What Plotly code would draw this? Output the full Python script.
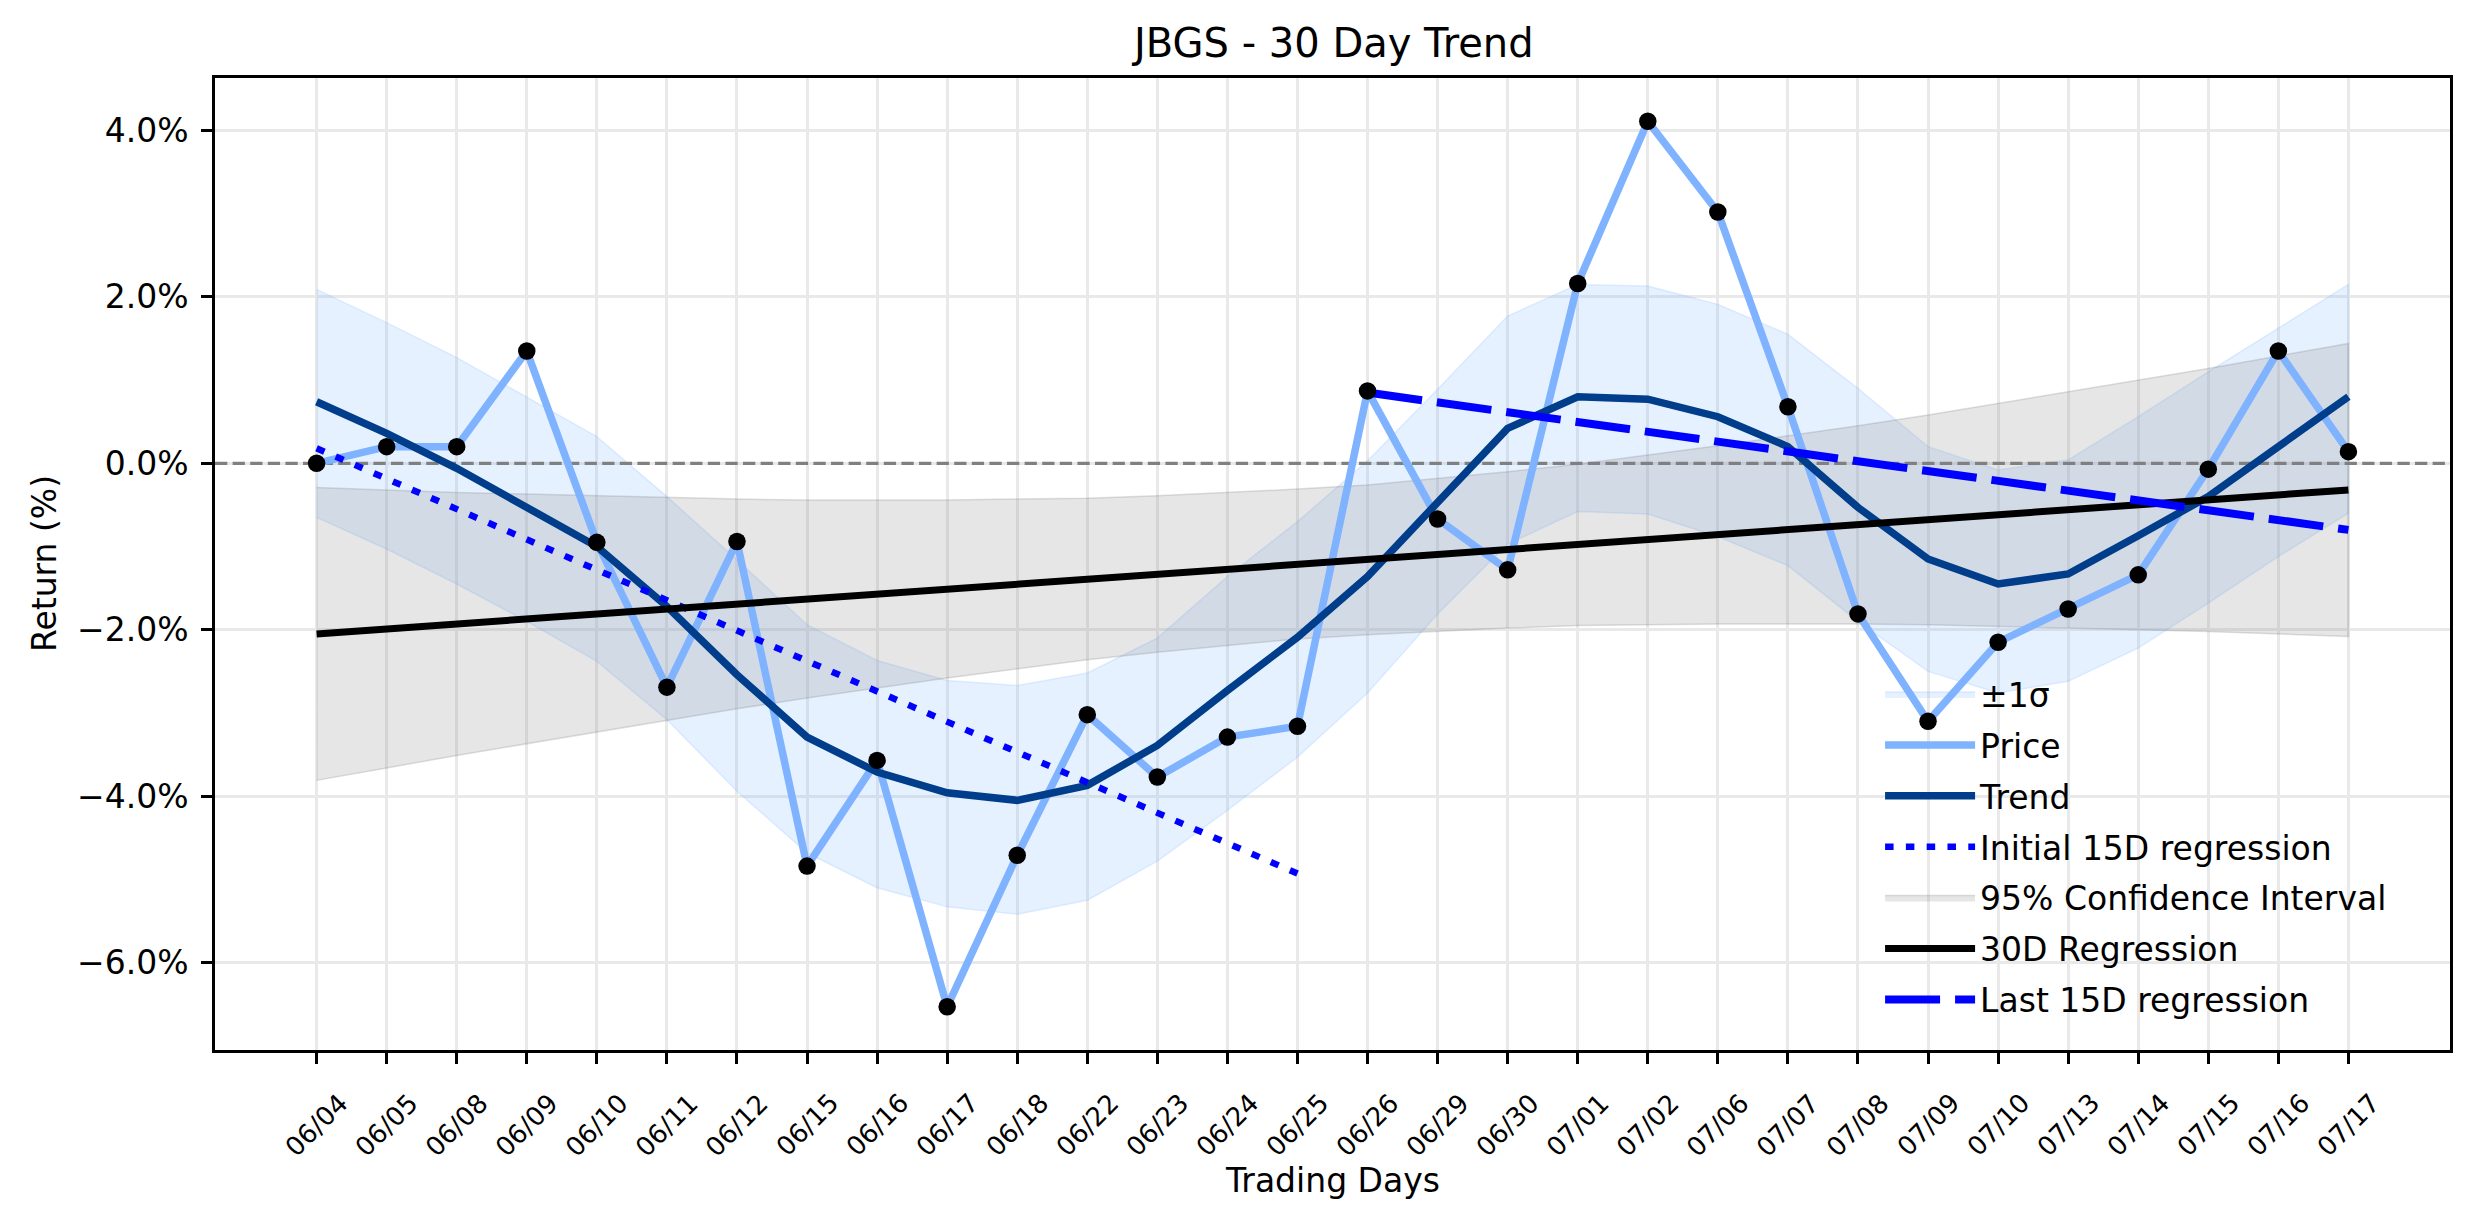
import plotly.graph_objects as go

# ---------------- data ----------------
dates = ["06/04", "06/05", "06/08", "06/09", "06/10", "06/11", "06/12", "06/15", "06/16", "06/17",
         "06/18", "06/22", "06/23", "06/24", "06/25", "06/26", "06/29", "06/30", "07/01", "07/02",
         "07/06", "07/07", "07/08", "07/09", "07/10", "07/13", "07/14", "07/15", "07/16", "07/17"]

price = [0.00, 0.20, 0.20, 1.35, -0.95, -2.69, -0.94, -4.84, -3.57, -6.53,
         -4.71, -3.02, -3.77, -3.29, -3.16, 0.87, -0.67, -1.28, 2.16, 4.11,
         3.02, 0.68, -1.81, -3.10, -2.15, -1.75, -1.34, -0.07, 1.35, 0.14]

trend = [0.74, 0.36, -0.06, -0.52, -1.00, -1.72, -2.54, -3.29, -3.71, -3.96,
         -4.05, -3.87, -3.39, -2.73, -2.09, -1.36, -0.46, 0.42, 0.80, 0.77,
         0.56, 0.20, -0.53, -1.15, -1.45, -1.33, -0.87, -0.40, 0.20, 0.80]

sigma_upper = [2.09, 1.69, 1.27, 0.80, 0.32, -0.40, -1.16, -1.94, -2.37, -2.61,
               -2.67, -2.52, -2.10, -1.36, -0.70, 0.03, 0.89, 1.77, 2.15, 2.13,
               1.91, 1.55, 0.90, 0.20, -0.08, 0.04, 0.56, 1.10, 1.62, 2.15]
sigma_lower = [-0.65, -1.03, -1.45, -1.90, -2.38, -3.08, -3.94, -4.68, -5.10, -5.33,
               -5.42, -5.25, -4.78, -4.17, -3.53, -2.76, -1.81, -0.97, -0.58, -0.61,
               -0.88, -1.23, -1.90, -2.50, -2.76, -2.62, -2.22, -1.68, -1.12, -0.60]

ci_upper = [-0.29, -0.32, -0.35, -0.37, -0.39, -0.41, -0.43, -0.44, -0.44, -0.44,
            -0.43, -0.42, -0.39, -0.35, -0.31, -0.26, -0.18, -0.10, -0.01, 0.10,
            0.21, 0.33, 0.45, 0.58, 0.72, 0.86, 1.00, 1.14, 1.29, 1.44]
ci_lower = [-3.81, -3.66, -3.51, -3.37, -3.23, -3.09, -2.95, -2.82, -2.70, -2.58,
            -2.47, -2.36, -2.27, -2.19, -2.11, -2.06, -2.02, -1.98, -1.95, -1.94,
            -1.93, -1.93, -1.93, -1.94, -1.96, -1.98, -2.00, -2.02, -2.05, -2.08]

reg30_ends = [-2.05, -0.32]        # at first and last day
init15_ends = [0.18, -4.93]        # days 0 .. 14
last15_ends = [0.85, -0.80]        # days 15 .. 29
zero_level = 0.0

y_ticks = [-6, -4, -2, 0, 2, 4]
y_tick_labels = ["\u22126.0%", "\u22124.0%", "\u22122.0%", "0.0%", "2.0%", "4.0%"]

# ---------------- figure ----------------
FONT = "DejaVu Sans"
x = list(range(len(dates)))
n = len(dates)
x_range = [-0.05 * (n - 1), (n - 1) * 1.05]

fig = go.Figure()

# ±1σ band
fig.add_trace(go.Scatter(
    x=x + x[::-1], y=sigma_upper + sigma_lower[::-1],
    fill="toself", fillcolor="rgba(128,185,255,0.2)",
    line=dict(color="rgba(128,185,255,0.22)", width=1.5),
    mode="lines", name="\u00b11\u03c3", legendgroup="g1", legendrank=1,
    hoverinfo="skip"))

# 95% CI band
fig.add_trace(go.Scatter(
    x=x + x[::-1], y=ci_upper + ci_lower[::-1],
    fill="toself", fillcolor="rgba(128,128,128,0.2)",
    line=dict(color="rgba(128,128,128,0.25)", width=1.5),
    mode="lines", name="95% Confidence Interval", legendgroup="g5", legendrank=5,
    hoverinfo="skip"))

# zero reference line (above the bands, below the lines)
fig.add_trace(go.Scatter(
    x=x_range, y=[zero_level, zero_level], mode="lines", showlegend=False,
    line=dict(color="#808080", width=3.3, dash="12.3px,5.3px"),
    hoverinfo="skip"))

# Price
fig.add_trace(go.Scatter(
    x=x, y=price, mode="lines", name="Price",
    line=dict(color="#7fb2ff", width=7.5),
    legendgroup="g2", legendrank=2))

# Trend
fig.add_trace(go.Scatter(
    x=x, y=trend, mode="lines", name="Trend",
    line=dict(color="#003d8a", width=7.5),
    legendgroup="g3", legendrank=3))

# Initial 15D regression
fig.add_trace(go.Scatter(
    x=[x[0], x[14]], y=init15_ends, mode="lines", name="Initial 15D regression",
    line=dict(color="#0000ff", width=6.5, dash="8.5px,12.3px"),
    legendgroup="g4", legendrank=4))

# 30D regression
fig.add_trace(go.Scatter(
    x=[x[0], x[-1]], y=reg30_ends, mode="lines", name="30D Regression",
    line=dict(color="#000000", width=7),
    legendgroup="g6", legendrank=6))

# Last 15D regression
fig.add_trace(go.Scatter(
    x=[x[15], x[-1]], y=last15_ends, mode="lines", name="Last 15D regression",
    line=dict(color="#0000ff", width=8, dash="55px,15px"),
    legendgroup="g7", legendrank=7))

# price dots
fig.add_trace(go.Scatter(
    x=x, y=price, mode="markers", showlegend=False,
    marker=dict(color="#000000", size=17.5)))

annotations = []
# x tick labels (rotated, centred under the tick like matplotlib)
for i, d in enumerate(dates):
    annotations.append(dict(
        x=i, xref="x", y=-0.0772, yref="paper", text=d, showarrow=False,
        textangle=-45, xanchor="center", yanchor="middle",
        font=dict(family=FONT, size=26, color="#000000")))

# title
annotations.append(dict(
    x=0.5, xref="paper", y=1.0363, yref="paper", text="JBGS - 30 Day Trend",
    showarrow=False, xanchor="center", yanchor="middle",
    font=dict(family=FONT, size=40, color="#000000")))
# axis titles
annotations.append(dict(
    x=0.5, xref="paper", y=-0.1338, yref="paper", text="Trading Days",
    showarrow=False, xanchor="center", yanchor="middle",
    font=dict(family=FONT, size=33, color="#000000")))
annotations.append(dict(
    x=-0.0765, xref="paper", y=0.5, yref="paper", text="Return (%)",
    showarrow=False, xanchor="center", yanchor="middle", textangle=-90,
    font=dict(family=FONT, size=33, color="#000000")))

fig.update_layout(
    width=2474, height=1224,
    margin=dict(l=215, r=24, t=78, b=174),
    paper_bgcolor="white", plot_bgcolor="white",
    font=dict(family=FONT, size=33, color="#000000"),
    showlegend=True,
    legend=dict(
        x=0.745, y=0.395, xanchor="left", yanchor="top",
        bgcolor="rgba(0,0,0,0)", borderwidth=0,
        font=dict(family=FONT, size=33, color="#000000"),
        traceorder="grouped", tracegroupgap=5, itemwidth=90),
    annotations=annotations,
)

fig.update_xaxes(
    range=x_range,
    tickmode="array", tickvals=x, showticklabels=False,
    ticks="outside", ticklen=11, tickwidth=2.7, tickcolor="#000000",
    showgrid=True, gridcolor="#e9e9e9", gridwidth=3,
    showline=True, linecolor="#000000", linewidth=2.7, mirror=True,
    zeroline=False)

fig.update_yaxes(
    range=[-7.05, 4.63],
    tickmode="array", tickvals=y_ticks, ticktext=y_tick_labels,
    tickfont=dict(family=FONT, size=33, color="#000000"),
    ticks="outside", ticklen=11, tickwidth=2.7, tickcolor="#000000",
    ticklabelstandoff=6,
    showgrid=True, gridcolor="#e9e9e9", gridwidth=3,
    showline=True, linecolor="#000000", linewidth=2.7, mirror=True,
    zeroline=False)

fig.write_html("out.html")
